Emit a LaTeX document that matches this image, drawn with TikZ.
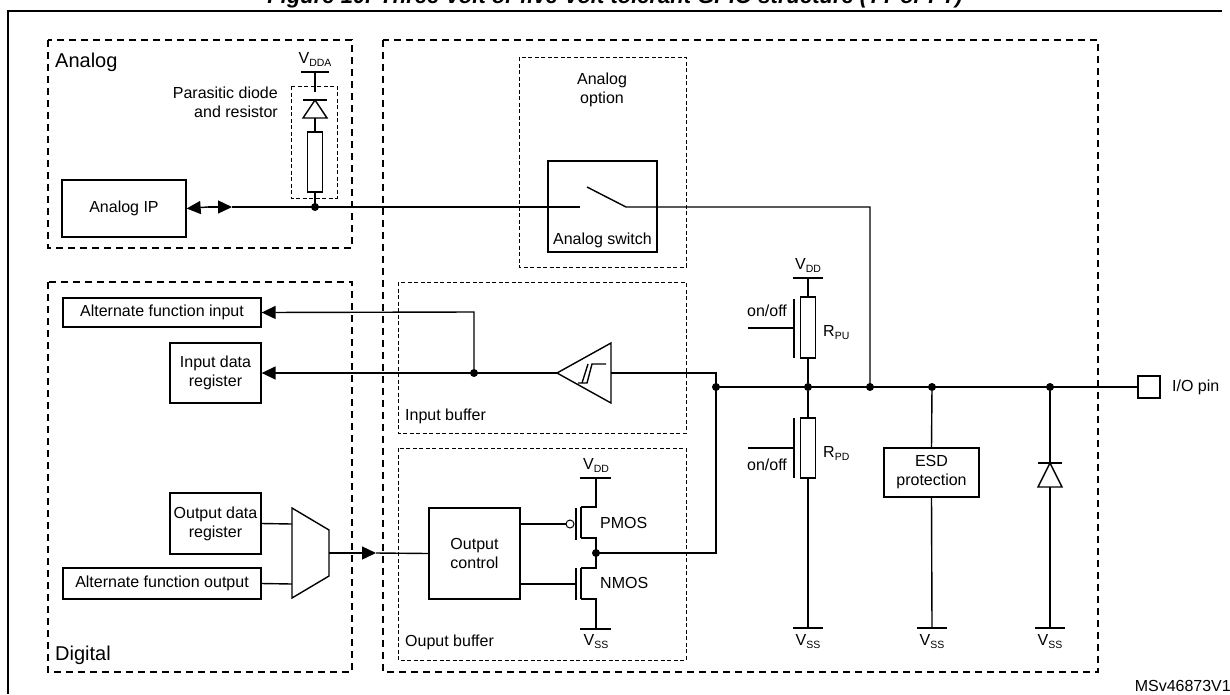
\documentclass[tikz,border=0pt]{standalone}
\usepackage{fontspec}
\setmainfont{Liberation Sans}
\usetikzlibrary{arrows.meta}
\newcommand{\sbs}[1]{{\fontsize{10.5}{10}\selectfont\raisebox{-3pt}{#1}}}
\begin{document}
\begin{tikzpicture}[x=1pt,y=-1pt,font=\fontsize{16}{19}\selectfont,
  box/.style={draw,line width=1.3pt,inner sep=0pt,align=center},
  grp/.style={draw,line width=1.1pt,dash pattern=on 7pt off 5pt},
  fgrp/.style={draw,line width=1pt,dash pattern=on 4pt off 2.5pt},
  w/.style={line width=1.4pt},
  dot/.style={circle,fill,inner sep=0pt,minimum size=8pt},
  tip/.style={-{Triangle[length=14pt,width=13pt]}},
  lbl/.style={inner sep=0pt}]
\useasboundingbox (0,0) rectangle (1230,694);
% frame and title
\draw[line width=2.5pt] (8,694) -- (8,11) -- (1222,11);
\node[lbl,font=\bfseries\itshape\fontsize{22}{24}\selectfont] (title) at (615,-2) {Figure 10. Three-volt or five-volt tolerant GPIO structure (TT or FT)};
% groups
\draw[grp] (48,40) rectangle (352,248);
\draw[grp] (48,282) rectangle (352,672);
\draw[grp] (383,40) rectangle (1098,672);
\draw[fgrp] (519,57) rectangle (686,267);
\draw[fgrp] (398,282) rectangle (686,433);
\draw[fgrp] (398,448) rectangle (686,660);
\draw[fgrp] (291,86) rectangle (337,198);
\node[lbl,anchor=west,font=\fontsize{20}{22}\selectfont] (tanalog) at (55,62) {Analog};
\node[lbl,anchor=west,font=\fontsize{20}{22}\selectfont] (tdigital) at (55,655) {Digital};
\node[lbl,anchor=west] (tib) at (405,416) {Input buffer};
\node[lbl,anchor=west] (tob) at (405,642) {Ouput buffer};
\node[lbl,anchor=east,align=right] (tpar) at (278,102) {Parasitic diode\\and resistor};
\node[lbl,align=center] (taopt) at (602,90) {Analog\\option};
\node[lbl,anchor=east] (tms) at (1231,686) {MSv46873V1};
% analog part
\node[box,minimum width=124pt,minimum height=57pt] (aip) at (124,208.5) {Analog IP};
\coordinate (ad) at (315,207);
\coordinate (amid) at (208,207);
\draw[w,tip] (amid) -- (aip.east);
\draw[w,tip] (amid) -- (232,207);
\draw[w] (232,207) -- (580,207);
\node[dot] (dad) at (ad) {};
\node[box,minimum width=15pt,minimum height=60pt] (rpar) at (315,162) {};
\draw[w] (rpar.south) -- (ad);
\coordinate (dtop) at (315,92);
\draw[w] (301,72) -- (329,72);
\node[lbl] (vdda) at (315,59) {V\sbs{DDA}};
\draw[w] (315,72) -- (dtop);
\draw[w] (303,100) -- (327,100);
\draw[w] (315,100) -- (303,118) -- (327,118) -- cycle;
\draw[w] (315,118) -- (rpar.north);
% analog switch
\node[box,minimum width=109pt,minimum height=91pt] (asw) at (602.5,206.5) {};
\node[lbl] (tasw) at (602.5,240) {Analog switch};
\coordinate (sw1) at (587,187);
\coordinate (sw2) at (626,207);
\coordinate (nA) at (870,387);
\draw[w] (sw1) -- (sw2) -- (870,207) -- (nA);
% main line
\node[box,minimum width=22pt,minimum height=22pt] (io) at (1149,387) {};
\node[lbl,anchor=west] (tio) at (1172,387) {I/O pin};
\coordinate (n0) at (716,387);
\draw[w] (n0) -- (io.west);
\foreach \x/\n in {716/d0,808/d1,870/d2,932/d3,1050/d4} \node[dot] (\n) at (\x,387) {};
% pull-up
\node[box,minimum width=15pt,minimum height=61pt] (rpu) at (808,327.5) {};
\draw[w] (793,278) -- (823,278);
\node[lbl] (vdd1) at (808,265) {V\sbs{DD}};
\draw[w] (808,278) -- (rpu.north);
\draw[w] (rpu.south) -- (d1);
\draw[w] (794,299) -- (794,358);
\coordinate (gpu) at (748,328);
\draw[w] (gpu) -- (794,328);
\node[lbl] (onoff1) at (767,311) {on/off};
\node[lbl,anchor=west] (trpu) at (823,333) {R\sbs{PU}};
% pull-down
\node[box,minimum width=15pt,minimum height=60pt] (rpd) at (808,448) {};
\draw[w] (d1) -- (rpd.north);
\draw[w] (794,418) -- (794,478);
\coordinate (gpd) at (748,448);
\draw[w] (gpd) -- (794,448);
\node[lbl] (onoff2) at (767,465) {on/off};
\node[lbl,anchor=west] (trpd) at (823,453) {R\sbs{PD}};
\draw[w] (rpd.south) -- (808,628);
\draw[w] (793,628) -- (823,628);
\node[lbl] (vss1) at (808,642) {V\sbs{SS}};
% ESD
\node[box,minimum width=95pt,minimum height=49pt] (esd) at (931.5,472.5) {ESD\\protection};
\draw[w] (d3) -- (esd.north);
\draw[w] (esd.south) -- (932,628);
\draw[w] (917,628) -- (947,628);
\node[lbl] (vss2) at (932,642) {V\sbs{SS}};
% diode
\draw[w] (d4) -- (1050,463);
\draw[w] (1038,463) -- (1062,463);
\draw[w] (1050,463) -- (1038,487) -- (1062,487) -- cycle;
\draw[w] (1050,487) -- (1050,628);
\draw[w] (1035,628) -- (1065,628);
\node[lbl] (vss3) at (1050,642) {V\sbs{SS}};
% input buffer
\coordinate (apex) at (557,373);
\draw[w] (apex) -- (611,343) -- (611,403) -- cycle;
\draw[w] (578,383) -- (587,383) -- (592,364) -- (606,364);
\draw[w] (582,383) -- (588,364);
\draw[w] (611,373) -- (716,373) -- (716,553) -- (596,553);
\node[box,minimum width=91pt,minimum height=60pt] (idr) at (215.5,373) {Input data\\register};
\node[box,minimum width=198pt,minimum height=29pt] (afi) at (162,312.5) {Alternate function input};
\node[dot] (di) at (474,373) {};
\draw[w,tip] (apex) -- (idr.east);
\draw[w,tip] (di) -- (474,312) -- (afi.east);
% output side
\node[box,minimum width=91pt,minimum height=61pt] (odr) at (215.5,523.5) {Output data\\register};
\node[box,minimum width=198pt,minimum height=31pt] (afo) at (162,583.5) {Alternate function output};
\draw[w] (292,508) -- (329,530) -- (329,576) -- (292,598) -- cycle;
\draw[w] (odr.east) -- (292,524);
\draw[w] (afo.east) -- (292,584);
\node[box,minimum width=91pt,minimum height=91pt] (oc) at (474.5,553.5) {Output\\control};
\coordinate (mo) at (329,553);
\draw[w,tip] (mo) -- (376,553);
\draw[w] (376,553) -- (oc.west);
% PMOS
\node[circle,draw,line width=1pt,inner sep=0pt,minimum size=8pt] (bub) at (570,524) {};
\draw[w] (520,524) -- (bub.west);
\draw[w] (576,508) -- (576,540);
\draw[w] (581,507) -- (581,538);
\draw[w] (581,507) -- (596,507) -- (596,478);
\draw[w] (580,478) -- (611,478);
\node[lbl] (vdd2) at (596,465) {V\sbs{DD}};
\draw[w] (581,538) -- (596,538) -- (596,568) -- (581,568);
\node[dot] (dj) at (596,553) {};
\node[lbl,anchor=west] (tp) at (600,523) {PMOS};
% NMOS
\draw[w] (520,584) -- (576,584);
\draw[w] (576,568) -- (576,600);
\draw[w] (581,568) -- (581,599);
\draw[w] (581,599) -- (596,599) -- (596,629);
\draw[w] (580,629) -- (611,629);
\node[lbl] (vss4) at (596,642) {V\sbs{SS}};
\node[lbl,anchor=west] (tn) at (600,583) {NMOS};
\end{tikzpicture}
\end{document}
